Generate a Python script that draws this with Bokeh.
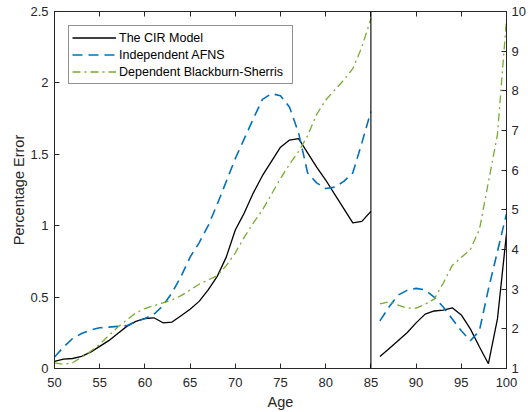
from bokeh.plotting import figure
from bokeh.models import Range1d, LinearAxis, FixedTicker, Span, Legend, LegendItem, CustomJSTickFormatter
from bokeh.embed import file_html
from bokeh.resources import INLINE

ages_left = list(range(50, 86))
ages_right = list(range(86, 101))

cir_left = [0.05, 0.065, 0.07, 0.085, 0.115, 0.155, 0.195, 0.245, 0.295, 0.33,
            0.35, 0.355, 0.32, 0.325, 0.37, 0.415, 0.47, 0.55, 0.645, 0.78,
            0.97, 1.09, 1.23, 1.35, 1.45, 1.55, 1.60, 1.61, 1.51, 1.41,
            1.32, 1.22, 1.12, 1.02, 1.03, 1.10]
afns_left = [0.08, 0.15, 0.21, 0.245, 0.27, 0.285, 0.29, 0.295, 0.30, 0.33,
             0.35, 0.38, 0.44, 0.53, 0.645, 0.78, 0.88, 1.0, 1.15, 1.31,
             1.47, 1.61, 1.75, 1.885, 1.925, 1.91, 1.83, 1.65, 1.37, 1.30,
             1.26, 1.27, 1.31, 1.37, 1.58, 1.80]
bs_left = [0.04, 0.03, 0.04, 0.08, 0.12, 0.17, 0.23, 0.29, 0.34, 0.39,
           0.42, 0.44, 0.46, 0.48, 0.51, 0.55, 0.59, 0.62, 0.65, 0.72,
           0.81, 0.92, 1.02, 1.11, 1.22, 1.33, 1.43, 1.52, 1.63, 1.78,
           1.88, 1.95, 2.02, 2.10, 2.25, 2.45]

cir_right = [1.3, 1.5, 1.7, 1.9, 2.15, 2.37, 2.45, 2.47, 2.53, 2.35, 2.0, 1.55, 1.12, 2.25, 4.4]
afns_right = [2.2, 2.55, 2.85, 2.97, 3.02, 2.98, 2.8, 2.55, 2.25, 1.95, 1.70, 1.95, 3.0, 3.95, 4.9]
bs_right = [2.63, 2.68, 2.6, 2.52, 2.52, 2.62, 2.75, 3.15, 3.6, 3.8, 4.0, 4.5, 5.7, 6.9, 9.8]

x_ticks = [50, 55, 60, 65, 70, 75, 80, 85, 90, 95, 100]
left_ticks = [0, 0.5, 1, 1.5, 2, 2.5]
left_tick_labels = ["0", "0.5", "1", "1.5", "2", "2.5"]
right_ticks = [1, 2, 3, 4, 5, 6, 7, 8, 9, 10]

series_names = ["The CIR Model", "Independent AFNS", "Dependent Blackburn-Sherris"]

FONT = "Liberation Sans"
AX = "#262626"

p = figure(width=528, height=412, output_backend="svg", toolbar_location=None,
           x_range=Range1d(50, 100), y_range=Range1d(0, 2.5),
           min_border_left=54, min_border_right=22, min_border_top=11, min_border_bottom=43)
p.extra_y_ranges = {"right": Range1d(1, 10)}
p.grid.visible = False
p.background_fill_color = "white"
p.border_fill_color = "white"
p.outline_line_color = AX
p.outline_line_width = 1

def style_axis(ax):
    ax.axis_line_color = AX
    ax.major_tick_line_color = AX
    ax.major_tick_in = 5
    ax.major_tick_out = 0
    ax.minor_tick_line_color = None
    ax.major_label_text_color = AX
    ax.major_label_text_font = FONT
    ax.major_label_text_font_size = "13px"
    ax.axis_label_text_font = FONT
    ax.axis_label_text_font_size = "14.5px"
    ax.axis_label_text_font_style = "normal"
    ax.axis_label_text_color = AX

xa = p.xaxis[0]
xa.ticker = FixedTicker(ticks=x_ticks)
xa.axis_label = "Age"
style_axis(xa)
xa.axis_label_standoff = 4
xa.major_label_standoff = 9

ya = p.yaxis[0]
ya.ticker = FixedTicker(ticks=left_ticks)
ya.major_label_overrides = {t: s for t, s in zip(left_ticks, left_tick_labels)}
ya.axis_label = "Percentage Error"
style_axis(ya)
ya.axis_label_standoff = 0
ya.major_label_standoff = 6

ra = LinearAxis(y_range_name="right", ticker=FixedTicker(ticks=right_ticks))
style_axis(ra)
ra.major_label_standoff = 5
p.add_layout(ra, "right")

ta = LinearAxis(ticker=FixedTicker(ticks=x_ticks),
                formatter=CustomJSTickFormatter(code="return ''"))
style_axis(ta)
ta.major_label_standoff = 0
p.add_layout(ta, "above")

p.add_layout(Span(location=85, dimension="height", line_color="black", line_width=1.1))

BLACK = "#000000"
BLUE = "#0072BD"
GREEN = "#77AC30"

r1 = p.line(ages_left, cir_left, line_color=BLACK, line_width=1.3)
r2 = p.line(ages_left, afns_left, line_color=BLUE, line_width=1.6, line_dash="10 6")
r3 = p.line(ages_left, bs_left, line_color=GREEN, line_width=1.3, line_dash="8 4 2 4")
p.line(ages_right, cir_right, line_color=BLACK, line_width=1.3, y_range_name="right")
p.line(ages_right, afns_right, line_color=BLUE, line_width=1.6, line_dash="10 6", y_range_name="right")
p.line(ages_right, bs_right, line_color=GREEN, line_width=1.3, line_dash="8 4 2 4", y_range_name="right")

legend = Legend(items=[LegendItem(label=series_names[0], renderers=[r1]),
                       LegendItem(label=series_names[1], renderers=[r2]),
                       LegendItem(label=series_names[2], renderers=[r3])],
                location="top_left")
legend.margin = 14
legend.padding = 3
legend.spacing = 0
legend.glyph_width = 44
legend.glyph_height = 17
legend.label_standoff = 3
legend.label_height = 17
legend.label_width = 170
legend.label_text_font = FONT
legend.label_text_font_size = "12.5px"
legend.label_text_color = "black"
legend.border_line_color = AX
legend.border_line_width = 1
legend.background_fill_alpha = 1
p.add_layout(legend, "center")

open("out.html", "w").write(file_html(p, INLINE))
